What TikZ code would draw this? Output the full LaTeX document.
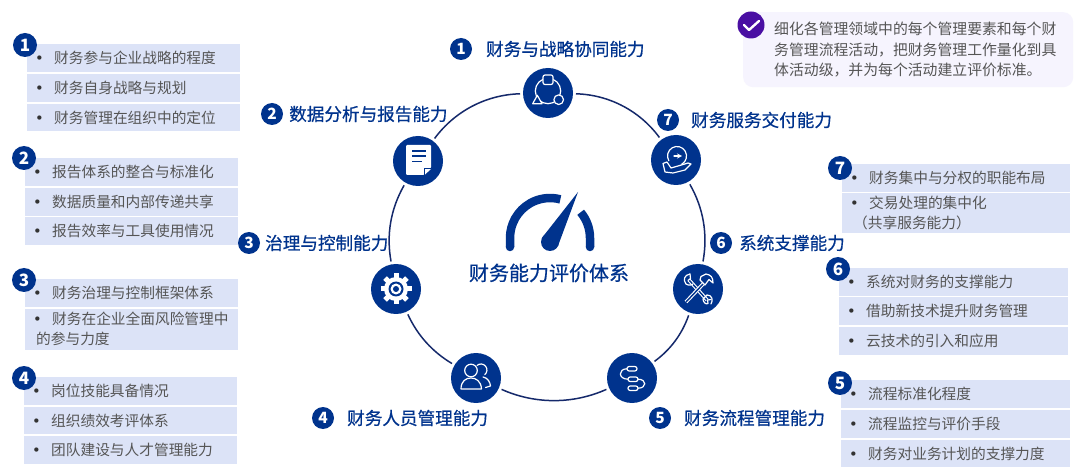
\documentclass[tikz,border=0pt]{standalone}
\usepackage{fontspec}
\setmainfont{Noto Sans CJK SC}
\newfontfamily\headfont[FakeBold=0.6]{Noto Sans CJK SC}
\newfontfamily\dotfont{DejaVu Sans}
\definecolor{mainblue}{HTML}{00338D}
\definecolor{ringblue}{HTML}{15296B}
\definecolor{itemfill}{HTML}{DCE3F7}
\definecolor{itemtext}{HTML}{555555}
\definecolor{notefill}{HTML}{F6F4FE}
\definecolor{notemark}{HTML}{4A0FA3}
\tikzset{
  iconnode/.style={circle, fill=mainblue, minimum size=50pt, inner sep=0pt, outer sep=3pt},
  ringline/.style={draw=ringblue, line width=1.5pt},
  numbadge/.style={circle, fill=mainblue, text=white, minimum size=24pt, inner sep=0pt, font=\fontsize{17}{17}\selectfont\bfseries},
  numsmall/.style={circle, fill=mainblue, text=white, minimum size=22pt, inner sep=0pt, font=\fontsize{15.5}{15.5}\selectfont\bfseries},
  headlabel/.style={anchor=west, inner sep=0pt, text=mainblue, font=\fontsize{17.6}{18}\selectfont\headfont},
  itembox/.style={anchor=north west, fill=itemfill, text=itemtext, minimum height=27.5pt, inner xsep=8pt, inner ysep=0pt, align=left, text width=#1-16pt, font=\fontsize{14.7}{20}\selectfont},
  iconline/.style={draw=white, line width=1.2pt, line join=round, line cap=round}
}
\newcommand{\itm}[1]{\makebox[19pt][l]{\dotfont\color{black!80}•}#1}
\begin{document}
\begin{tikzpicture}[x=1pt,y=-1pt]
\useasboundingbox[fill=white] (0,0) rectangle (1080,473);

\node[iconnode] (ic1) at (548,93) {};
\node[iconnode] (ic2) at (418,161) {};
\node[iconnode] (ic3) at (396,289) {};
\node[iconnode] (ic4) at (476,378) {};
\node[iconnode] (ic5) at (632,378) {};
\node[iconnode] (ic6) at (698,289) {};
\node[iconnode] (ic7) at (676,160) {};
\path[ringline] (ic1) to[bend left=26,looseness=0.9] (ic7);
\path[ringline] (ic7) to[bend left=20,looseness=0.9] (ic6);
\path[ringline] (ic6) to[bend left=17,looseness=0.9] (ic5);
\path[ringline] (ic5) to[bend left=24,looseness=0.9] (ic4);
\path[ringline] (ic4) to[bend left=17,looseness=0.9] (ic3);
\path[ringline] (ic3) to[bend left=20,looseness=0.9] (ic2);
\path[ringline] (ic2) to[bend left=26,looseness=0.9] (ic1);

\node[numsmall] (nb1) at (461,49) {1};
\node[numsmall] (nb2) at (272,114) {2};
\node[numsmall] (nb3) at (249,243) {3};
\node[numsmall] (nb4) at (323,418) {4};
\node[numsmall] (nb5) at (660,418) {5};
\node[numsmall] (nb6) at (721,243) {6};
\node[numsmall] (nb7) at (668,120) {7};
\node[headlabel] (lb1) at (486,49) {财务与战略协同能力};
\node[headlabel] (lb2) at (289,114) {数据分析与报告能力};
\node[headlabel] (lb3) at (265,243) {治理与控制能力};
\node[headlabel] (lb4) at (347,418) {财务人员管理能力};
\node[headlabel] (lb5) at (684,418) {财务流程管理能力};
\node[headlabel] (lb6) at (739,243) {系统支撑能力};
\node[headlabel] (lb7) at (691,120) {财务服务交付能力};

% gauge
\draw[mainblue, line width=8.5pt] (510,247) -- (510,238) arc (180:285:40);
\draw[mainblue, line width=8.5pt] (590,247) -- (590,238) arc (0:-40:40);
\fill[mainblue] (510,247) circle (4.25);
\fill[mainblue] (590,247) circle (4.25);
\fill[mainblue] (578,192) -- (542.2,237.6) -- (557.8,246.4) -- cycle;
\fill[mainblue] (550,242) circle (9);
\node[inner sep=0pt, text=mainblue, font=\fontsize{20}{20}\selectfont\headfont] (title) at (549,273) {财务能力评价体系};

% icons
\begin{scope}[shift={(ic1)}]
\draw[iconline] (0,-2) circle (12.7);
\draw[iconline, fill=mainblue, rounded corners=2pt] (-5,-18) rectangle (5,-8.5);
\draw[iconline, fill=mainblue] (10.7,6.7) circle (4.8);
\draw[iconline, fill=mainblue] (-10.7,2.3) -- (-15.3,10.7) -- (-6,10.7) -- cycle;
\end{scope}
\begin{scope}[shift={(ic2)}]
\fill[white, rounded corners=1pt] (-12,-16) -- (13,-16) -- (13,7) -- (6,14) -- (-12,14) -- cycle;
\draw[mainblue, line width=1.6pt] (-6,-10) -- (8,-10);
\draw[mainblue, line width=1.6pt] (-6,-5) -- (8,-5);
\draw[mainblue, line width=1.6pt] (-6,0.5) -- (4,0.5);
\draw[mainblue, line width=1pt, fill=white] (6.5,14) -- (6.5,8) -- (13,8);
\end{scope}
\begin{scope}[shift={(ic3)}]
\fill[white] (0,0) circle (12);
\foreach \ang in {0,45,...,315} {
  \draw[white, line width=5pt] (0,0) -- (\ang:15.5);
}
\fill[mainblue] (0,0) circle (7.5);
\fill[white] (0,0) circle (5.5);
\fill[mainblue] (0,0) circle (3);
\end{scope}
\begin{scope}[shift={(ic4)}]
\draw[iconline] (1.1,-12.6) arc (230:410:6);
\draw[iconline] (7,-1) .. controls (12,0) and (14,4) .. (14.5,8) -- (9.5,9.5);
\draw[iconline, fill=mainblue] (-5,-7.5) circle (6.3);
\draw[iconline, fill=mainblue] (-15,11) .. controls (-15,3) and (-10,0) .. (-5,0) .. controls (0,0) and (5,3) .. (5.5,11) -- cycle;
\end{scope}
\begin{scope}[shift={(ic5)}]
\draw[iconline, rounded corners=2.2pt] (-5,-11.5) rectangle (5,-7);
\draw[iconline, rounded corners=2.2pt] (-4,-1) rectangle (6,3.5);
\draw[iconline, rounded corners=2.2pt] (-4,8) rectangle (6,12.5);
\draw[iconline] (-5,-9.2) .. controls (-14,-9.2) and (-14,1.2) .. (-4,1.2);
\draw[iconline] (6,1.2) .. controls (15,1.2) and (15,10.2) .. (6,10.2);
\end{scope}
\begin{scope}[shift={(ic6)}]
\draw[white, line width=3.6pt] (-9,-9) -- (9,11);
\draw[mainblue, line width=1.4pt] (-9,-9) -- (9,11);
\draw[iconline] (-8,-15) .. controls (-14,-14) and (-15,-9) .. (-12,-5) .. controls (-9,-3) and (-6,-4) .. (-5,-5);
\draw[iconline] (-8,-15) -- (-7.5,-10.5) -- (-10,-8.5);
\draw[iconline] (9,6) .. controls (14,6) and (15.5,11) .. (13,15);
\draw[iconline] (9,6) -- (5,10) .. controls (5,13) and (8,16) .. (10,14.5) -- (9.5,11) -- (13,10.5);
\draw[white, line width=3.6pt] (-12,13) -- (6,-6);
\draw[mainblue, line width=1.4pt] (-12,13) -- (6,-6);
\draw[iconline, fill=mainblue] (3,-12.5) -- (8,-15) .. controls (13,-14) and (15,-12) .. (15,-6) -- (11,-9.5) -- (7,-4) -- (2,-9) -- cycle;
\end{scope}
\begin{scope}[shift={(ic7)}]
\draw[iconline] (-7.2,0.75) arc (150:420:9.5);
\draw[iconline, -stealth] (-2,-4) -- (6,-4);
\draw[iconline, fill=mainblue] (-13,3.5) -- (-9,2) -- (-5,8) -- (2,6) -- (12,3) -- (15,4) -- (9,10) -- (-3,13) -- (-11,12) -- cycle;
\end{scope}

% left groups
\node[itembox=213pt] (a1) at (27,44) {\itm{财务参与企业战略的程度}};
\node[itembox=213pt] (a2) at (27,74) {\itm{财务自身战略与规划}};
\node[itembox=213pt] (a3) at (27,103.5) {\itm{财务管理在组织中的定位}};
\node[numbadge] (ba) at (25,45) {1};

\node[itembox=213pt] (b1) at (25,158) {\itm{报告体系的整合与标准化}};
\node[itembox=213pt] (b2) at (25,188) {\itm{数据质量和内部传递共享}};
\node[itembox=213pt] (b3) at (25,217) {\itm{报告效率与工具使用情况}};
\node[numbadge] (bb) at (24,158) {2};

\node[itembox=213pt] (c1) at (25,279) {\itm{财务治理与控制框架体系}};
\node[itembox=213pt, minimum height=41pt] (c2) at (25,308.5) {\itm{财务在企业全面风险管理中}\\\hspace*{3pt}的参与力度};
\node[numbadge] (bc) at (24,280) {3};

\node[itembox=213pt] (d1) at (24,377) {\itm{岗位技能具备情况}};
\node[itembox=213pt] (d2) at (24,406.5) {\itm{组织绩效考评体系}};
\node[itembox=213pt] (d3) at (24,436) {\itm{团队建设与人才管理能力}};
\node[numbadge] (bd) at (24,378) {4};

% right groups
\node[itembox=228pt] (e1) at (842,164) {\itm{财务集中与分权的职能布局}};
\node[itembox=228pt, minimum height=40pt] (e2) at (842,193) {\itm{交易处理的集中化}\\\hspace*{3pt}（共享服务能力）};
\node[numbadge] (be) at (840,168) {7};

\node[itembox=229pt] (f1) at (839,268) {\itm{系统对财务的支撑能力}};
\node[itembox=229pt] (f2) at (839,297) {\itm{借助新技术提升财务管理}};
\node[itembox=229pt] (f3) at (839,327) {\itm{云技术的引入和应用}};
\node[numbadge] (bf) at (838,269) {6};

\node[itembox=229pt] (g1) at (841,380) {\itm{流程标准化程度}};
\node[itembox=229pt] (g2) at (841,410) {\itm{流程监控与评价手段}};
\node[itembox=229pt] (g3) at (841,439.5) {\itm{财务对业务计划的支撑力度}};
\node[numbadge] (bg) at (840,383) {5};

% note
\node[anchor=north west, fill=notefill, rounded corners=10pt, minimum width=330pt, minimum height=75pt, inner sep=0pt] (note) at (743,12) {};
\node[anchor=west, inner sep=0pt, align=left, text=itemtext, font=\fontsize{14.85}{20.5}\selectfont] (notetext) at (774,50) {细化各管理领域中的每个管理要素和每个财\\务管理流程活动，把财务管理工作量化到具\\体活动级，并为每个活动建立评价标准。};
\node[circle, fill=notemark, minimum size=27pt, inner sep=0pt] (check) at (751,25) {};
\draw[white, line width=2.4pt, line cap=round, line join=round] (744,25) -- (749,30) -- (759,21);
\end{tikzpicture}
\end{document}
